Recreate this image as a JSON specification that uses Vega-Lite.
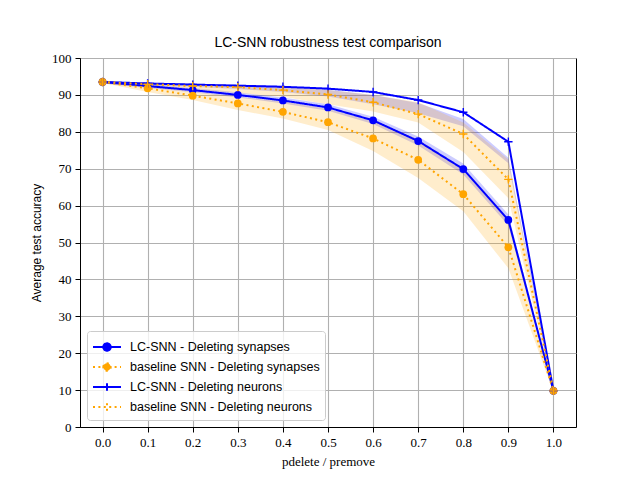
{
  "$schema": "https://vega.github.io/schema/vega-lite/v6.json",
  "width": 496,
  "height": 369,
  "autosize": "none",
  "padding": {"left": 80, "top": 58, "right": 64, "bottom": 53},
  "title": {
    "text": "LC-SNN robustness test comparison",
    "font": "Liberation Sans",
    "fontSize": 14,
    "fontWeight": "normal",
    "anchor": "middle",
    "offset": 2
  },
  "data": {
    "values": [
      {"x": 0.0, "series": "LC-SNN - Deleting synapses", "y": 93.5, "lo": 93.1, "hi": 93.9},
      {"x": 0.1, "series": "LC-SNN - Deleting synapses", "y": 92.4, "lo": 91.9, "hi": 92.9},
      {"x": 0.2, "series": "LC-SNN - Deleting synapses", "y": 91.3, "lo": 90.7, "hi": 91.9},
      {"x": 0.3, "series": "LC-SNN - Deleting synapses", "y": 90.0, "lo": 89.3, "hi": 90.7},
      {"x": 0.4, "series": "LC-SNN - Deleting synapses", "y": 88.5, "lo": 87.7, "hi": 89.3},
      {"x": 0.5, "series": "LC-SNN - Deleting synapses", "y": 86.6, "lo": 85.7, "hi": 87.5},
      {"x": 0.6, "series": "LC-SNN - Deleting synapses", "y": 83.1, "lo": 82.1, "hi": 84.1},
      {"x": 0.7, "series": "LC-SNN - Deleting synapses", "y": 77.5, "lo": 76.3, "hi": 78.7},
      {"x": 0.8, "series": "LC-SNN - Deleting synapses", "y": 69.9, "lo": 68.4, "hi": 71.4},
      {"x": 0.9, "series": "LC-SNN - Deleting synapses", "y": 56.1, "lo": 54.6, "hi": 57.6},
      {"x": 1.0, "series": "LC-SNN - Deleting synapses", "y": 9.8, "lo": 9.5, "hi": 10.1},
      {"x": 0.0, "series": "baseline SNN - Deleting synapses", "y": 93.5, "lo": 93.2, "hi": 93.8},
      {"x": 0.1, "series": "baseline SNN - Deleting synapses", "y": 91.8, "lo": 90.8, "hi": 92.6},
      {"x": 0.2, "series": "baseline SNN - Deleting synapses", "y": 89.8, "lo": 88.6, "hi": 90.9},
      {"x": 0.3, "series": "baseline SNN - Deleting synapses", "y": 87.7, "lo": 85.9, "hi": 89.5},
      {"x": 0.4, "series": "baseline SNN - Deleting synapses", "y": 85.4, "lo": 83.6, "hi": 88.2},
      {"x": 0.5, "series": "baseline SNN - Deleting synapses", "y": 82.6, "lo": 80.5, "hi": 86.2},
      {"x": 0.6, "series": "baseline SNN - Deleting synapses", "y": 78.2, "lo": 74.8, "hi": 82.8},
      {"x": 0.7, "series": "baseline SNN - Deleting synapses", "y": 72.4, "lo": 67.5, "hi": 78.0},
      {"x": 0.8, "series": "baseline SNN - Deleting synapses", "y": 63.1, "lo": 58.5, "hi": 69.5},
      {"x": 0.9, "series": "baseline SNN - Deleting synapses", "y": 48.7, "lo": 43.0, "hi": 56.0},
      {"x": 1.0, "series": "baseline SNN - Deleting synapses", "y": 9.8, "lo": 9.4, "hi": 10.3},
      {"x": 0.0, "series": "LC-SNN - Deleting neurons", "y": 93.5, "lo": 93.2, "hi": 93.8},
      {"x": 0.1, "series": "LC-SNN - Deleting neurons", "y": 93.1, "lo": 92.6, "hi": 93.3},
      {"x": 0.2, "series": "LC-SNN - Deleting neurons", "y": 92.8, "lo": 92.2, "hi": 93.0},
      {"x": 0.3, "series": "LC-SNN - Deleting neurons", "y": 92.5, "lo": 91.6, "hi": 92.8},
      {"x": 0.4, "series": "LC-SNN - Deleting neurons", "y": 92.2, "lo": 90.8, "hi": 92.4},
      {"x": 0.5, "series": "LC-SNN - Deleting neurons", "y": 91.7, "lo": 89.6, "hi": 91.4},
      {"x": 0.6, "series": "LC-SNN - Deleting neurons", "y": 90.8, "lo": 87.5, "hi": 90.0},
      {"x": 0.7, "series": "LC-SNN - Deleting neurons", "y": 88.6, "lo": 85.0, "hi": 87.8},
      {"x": 0.8, "series": "LC-SNN - Deleting neurons", "y": 85.3, "lo": 81.5, "hi": 83.5},
      {"x": 0.9, "series": "LC-SNN - Deleting neurons", "y": 77.3, "lo": 71.5, "hi": 73.0},
      {"x": 1.0, "series": "LC-SNN - Deleting neurons", "y": 9.8, "lo": 9.6, "hi": 10.1},
      {"x": 0.0, "series": "baseline SNN - Deleting neurons", "y": 93.5, "lo": 93.2, "hi": 93.8},
      {"x": 0.1, "series": "baseline SNN - Deleting neurons", "y": 92.9, "lo": 92.2, "hi": 93.3},
      {"x": 0.2, "series": "baseline SNN - Deleting neurons", "y": 92.4, "lo": 91.3, "hi": 93.0},
      {"x": 0.3, "series": "baseline SNN - Deleting neurons", "y": 92.1, "lo": 90.5, "hi": 92.7},
      {"x": 0.4, "series": "baseline SNN - Deleting neurons", "y": 91.3, "lo": 89.5, "hi": 92.2},
      {"x": 0.5, "series": "baseline SNN - Deleting neurons", "y": 90.1, "lo": 87.5, "hi": 91.3},
      {"x": 0.6, "series": "baseline SNN - Deleting neurons", "y": 88.0, "lo": 85.5, "hi": 90.0},
      {"x": 0.7, "series": "baseline SNN - Deleting neurons", "y": 84.8, "lo": 82.5, "hi": 88.0},
      {"x": 0.8, "series": "baseline SNN - Deleting neurons", "y": 79.4, "lo": 74.5, "hi": 82.5},
      {"x": 0.9, "series": "baseline SNN - Deleting neurons", "y": 67.1, "lo": 62.0, "hi": 72.5},
      {"x": 1.0, "series": "baseline SNN - Deleting neurons", "y": 9.8, "lo": 9.4, "hi": 10.4}
    ]
  },
  "encoding": {
    "x": {
      "field": "x",
      "type": "quantitative",
      "scale": {"domain": [-0.05, 1.05], "nice": false, "zero": false},
      "axis": {
        "values": [0, 0.1, 0.2, 0.3, 0.4, 0.5, 0.6, 0.7, 0.8, 0.9, 1.0],
        "format": ".1f",
        "labelOverlap": false,
        "title": "pdelete / premove"
      }
    },
    "y": {
      "field": "y",
      "type": "quantitative",
      "scale": {"domain": [0, 100], "nice": false},
      "axis": {
        "values": [0, 10, 20, 30, 40, 50, 60, 70, 80, 90, 100],
        "labelOverlap": false,
        "title": "Average test accuracy"
      }
    },
    "color": {
      "field": "series",
      "type": "nominal",
      "scale": {
        "domain": [
          "LC-SNN - Deleting synapses",
          "baseline SNN - Deleting synapses",
          "LC-SNN - Deleting neurons",
          "baseline SNN - Deleting neurons"
        ],
        "range": ["#0000ff", "#ffa500", "#0000ff", "#ffa500"]
      },
      "legend": {
        "title": null,
        "orient": "bottom-left",
        "offset": 7,
        "padding": 5,
        "fillColor": "rgba(255,255,255,0.8)",
        "strokeColor": "#cccccc",
        "cornerRadius": 3,
        "symbolSize": 400,
        "symbolOffset": 4,
        "labelOffset": 12,
        "labelLimit": 0,
        "rowPadding": 1,
        "labelFont": "Liberation Sans",
        "labelFontSize": 12.5,
        "labelColor": "black",
        "encode": {
          "symbols": {
            "update": {
              "shape": {"signal": "indexof(datum.value, 'synapses') >= 0 ? 'M-1.4,0H1.4M-0.37,0A0.37,0.37 0 1,1 0.37,0A0.37,0.37 0 1,1 -0.37,0Z' : 'M-1.4,0H1.4M0,-0.37V0.37'"},
              "fill": {"signal": "indexof(datum.value, 'synapses') >= 0 ? (indexof(datum.value, 'LC') == 0 ? '#0000ff' : '#ffa500') : 'transparent'"},
              "stroke": {"signal": "indexof(datum.value, 'LC') == 0 ? '#0000ff' : '#ffa500'"},
              "strokeDash": {"signal": "indexof(datum.value, 'LC') == 0 ? [1, 0] : [2, 3.4]"},
              "strokeWidth": {"value": 2},
              "opacity": {"value": 1},
              "fillOpacity": {"value": 1},
              "strokeOpacity": {"value": 1}
            }
          }
        }
      }
    }
  },
  "layer": [
    {
      "mark": {"type": "area", "fillOpacity": 0.2, "strokeWidth": 0},
      "encoding": {
        "y": {
          "field": "lo",
          "type": "quantitative",
          "scale": {"domain": [0, 100], "nice": false},
          "axis": {
            "values": [0, 10, 20, 30, 40, 50, 60, 70, 80, 90, 100],
            "labelOverlap": false,
            "title": "Average test accuracy"
          }
        },
        "y2": {"field": "hi"},
        "detail": {"field": "series"}
      }
    },
    {
      "mark": {"type": "line", "strokeWidth": 2},
      "encoding": {
        "strokeDash": {
          "field": "series",
          "type": "nominal",
          "scale": {
            "domain": [
              "LC-SNN - Deleting synapses",
              "baseline SNN - Deleting synapses",
              "LC-SNN - Deleting neurons",
              "baseline SNN - Deleting neurons"
            ],
            "range": [[1, 0], [2, 3.4], [1, 0], [2, 3.4]]
          },
          "legend": null
        }
      }
    },
    {
      "transform": [{"filter": "indexof(datum.series, 'synapses') >= 0"}],
      "mark": {"type": "circle", "size": 60, "opacity": 1}
    },
    {
      "transform": [{"filter": "indexof(datum.series, 'neurons') >= 0"}],
      "mark": {
        "type": "point",
        "shape": "M-1,0H1M0,-1V1",
        "size": 70,
        "filled": false,
        "strokeWidth": 1.4,
        "opacity": 1
      }
    }
  ],
  "config": {
    "view": {"stroke": "black", "strokeWidth": 1},
    "axis": {
      "grid": true,
      "gridColor": "#b0b0b0",
      "gridWidth": 1.1,
      "gridOpacity": 1,
      "domainColor": "black",
      "domainWidth": 1,
      "tickColor": "black",
      "tickSize": 5,
      "tickWidth": 1,
      "labelFont": "Liberation Serif",
      "labelFontSize": 13,
      "labelColor": "black",
      "labelPadding": 4,
      "titleFont": "Liberation Sans",
      "titleFontSize": 12,
      "titleFontWeight": "normal",
      "titleColor": "black"
    },
    "axisX": {"titleFont": "Liberation Serif", "titleFontSize": 13, "titlePadding": 6},
    "axisY": {"titlePadding": 8}
  }
}
